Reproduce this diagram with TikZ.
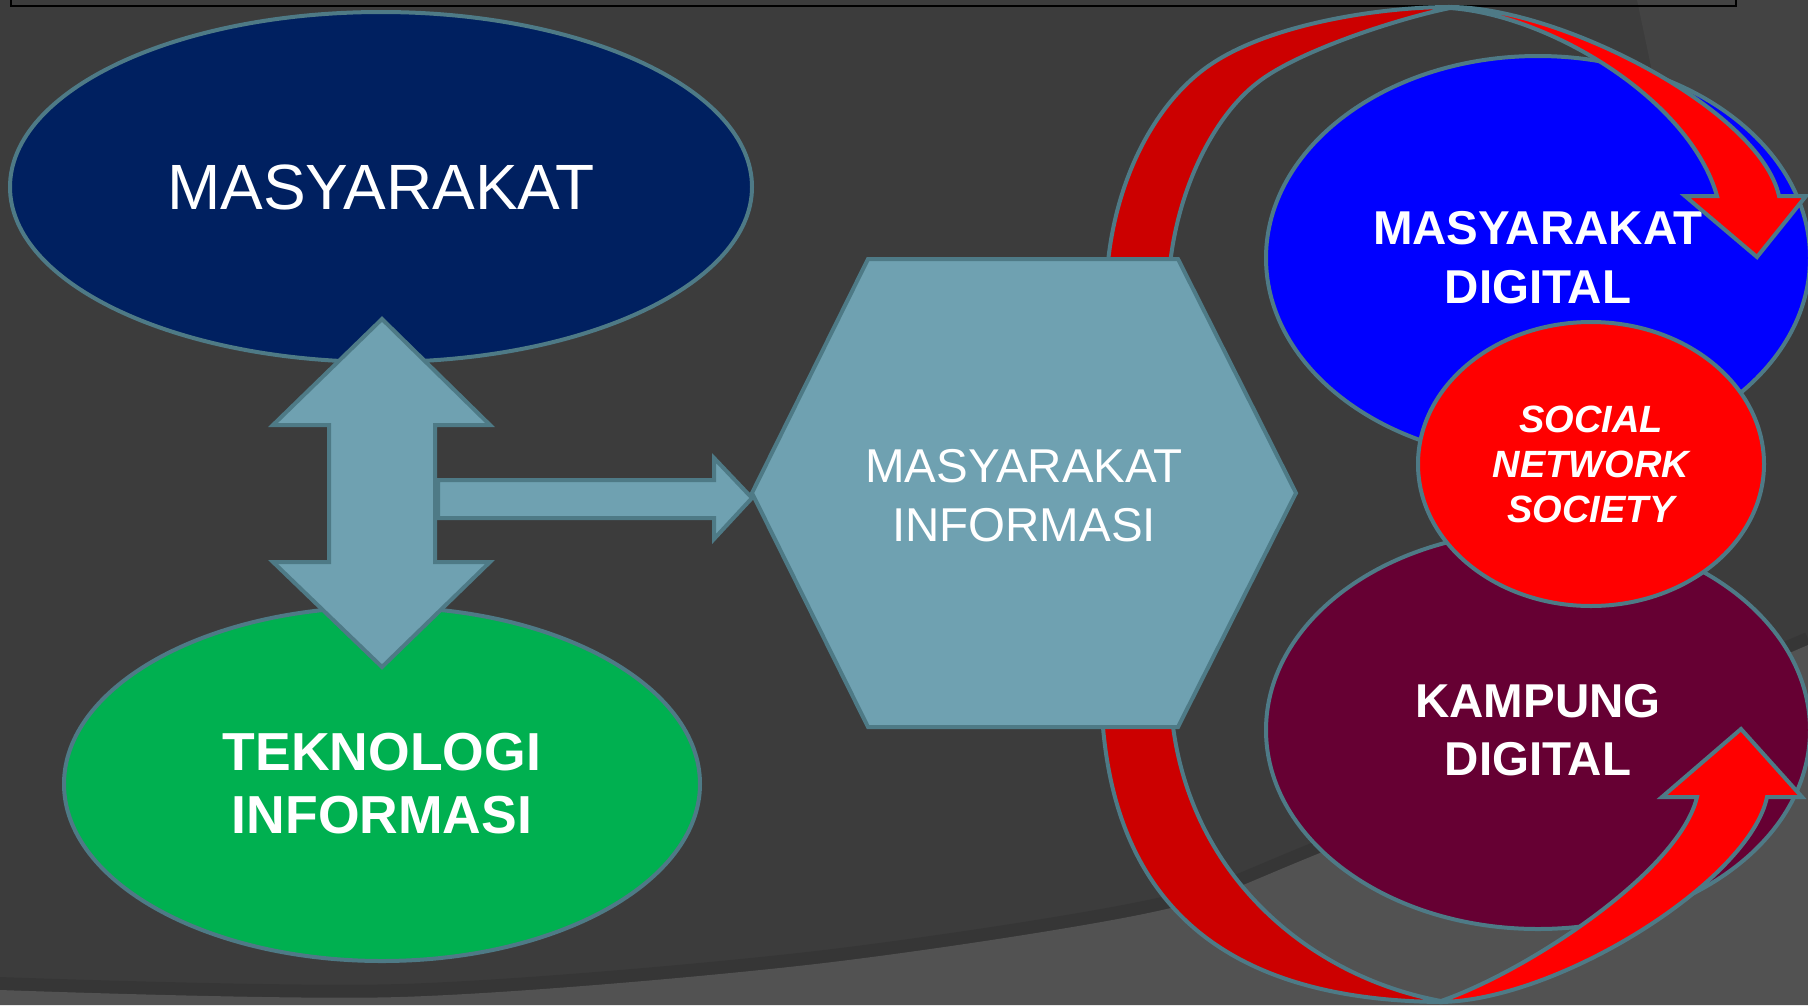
\documentclass[tikz,border=0pt]{standalone}
\usepackage{fontspec}
\setmainfont{Liberation Sans}
\usetikzlibrary{shapes.geometric}
\definecolor{bg}{HTML}{3C3C3C}
\definecolor{bglight}{HTML}{525252}
\definecolor{bgmid}{HTML}{434343}
\definecolor{bgshadow}{HTML}{333333}
\definecolor{edge}{HTML}{4E7A86}
\definecolor{hexfill}{HTML}{6FA1B1}
\definecolor{navy}{HTML}{002060}
\definecolor{tigreen}{HTML}{00B050}
\definecolor{mdblue}{HTML}{0000FF}
\definecolor{snred}{HTML}{FF0000}
\definecolor{kdmaroon}{HTML}{660033}
\definecolor{darkred}{HTML}{CC0000}
\begin{document}
\begin{tikzpicture}[x=1pt,y=-1pt,
  blk/.style={draw=edge, line width=4pt, line join=miter},
  oval/.style={blk, ellipse, inner sep=0pt, text=white, align=center},
  lbl/.style={text=white, align=center, inner sep=0pt}]
\useasboundingbox (0,0) rectangle (1808,1005);
\clip (0,0) rectangle (1808,1005);
% background
\fill[bg] (0,0) rectangle (1808,1005);
\fill[bgmid] (1637,0) -- (1700,300) -- (1808,300) -- (1808,0) -- cycle;
\draw[bgshadow, line width=14pt, opacity=0.6] plot[smooth] coordinates {(0,984) (400,991) (807,959) (1153,906) (1315,849) (1808,639)};
\fill[bglight] plot[smooth] coordinates {(0,990) (400,997) (807,965) (1153,912) (1315,855) (1808,645)} -- (1808,1005) -- (0,1005) -- cycle;
\draw[black, line width=2pt] (11,-20) rectangle (1736,6);
% right cluster
\node[oval, fill=mdblue, minimum width=544pt, minimum height=404pt,
  font=\fontsize{47.5}{59}\selectfont\bfseries] (md) at (1538,258) {MASYARAKAT\\DIGITAL};
\node[oval, fill=kdmaroon, minimum width=544pt, minimum height=398pt,
  font=\fontsize{47.5}{58}\selectfont\bfseries] (kd) at (1538,730) {KAMPUNG\\DIGITAL};
\node[oval, fill=snred, minimum width=346pt, minimum height=284pt,
  font=\fontsize{38}{45}\selectfont\bfseries\itshape] (sns) at (1591,464) {SOCIAL\\NETWORK\\SOCIETY};
% top curved arrow (back part)
\path[blk, fill=darkred] (1106,300) .. controls (1106,200) and (1147,110) .. (1207,67)
  .. controls (1267,24) and (1380,7) .. (1450,7) -- (1450,8)
  .. controls (1400,18) and (1297,51) .. (1257,83)
  .. controls (1207,122) and (1168,210) .. (1168,300) -- cycle;
% top curved arrow (front part)
\path[blk, fill=snred] (1450,7) .. controls (1560,7) and (1760,110) .. (1779,196)
  -- (1806,196) -- (1757,257) -- (1685,196) -- (1717,196)
  .. controls (1690,100) and (1550,15) .. (1450,8) -- cycle;
% bottom curved arrow (back part)
\path[blk, fill=darkred] (1101,680) .. controls (1101,900) and (1220,1000) .. (1441,1002)
  -- (1441,1001) .. controls (1300,975) and (1170,860) .. (1170,680) -- cycle;
% bottom curved arrow (front part)
\path[blk, fill=snred] (1441,1002) .. controls (1560,1000) and (1750,880) .. (1767,797)
  -- (1802,797) -- (1741,729) -- (1662,797) -- (1697,797)
  .. controls (1680,870) and (1530,970) .. (1441,1001) -- cycle;
% hexagon
\path[blk, fill=hexfill] (868,259) -- (1178,259) -- (1296,493) -- (1178,727) -- (868,727) -- (752,493) -- cycle;
\node[lbl, font=\fontsize{47.5}{59}\selectfont] (mi) at (1024,496) {MASYARAKAT\\INFORMASI};
% left ellipses
\node[oval, fill=navy, minimum width=742pt, minimum height=350pt,
  font=\fontsize{64}{64}\selectfont] (m) at (381,187) {MASYARAKAT};
\node[oval, fill=tigreen, minimum width=636pt, minimum height=354pt,
  font=\fontsize{53.5}{63}\selectfont\bfseries] (ti) at (382,784) {TEKNOLOGI\\INFORMASI};
% double arrow
\path[blk, fill=hexfill] (382,319) -- (490,425) -- (435,425) -- (435,562) -- (490,562) -- (382,667)
  -- (273,562) -- (329,562) -- (329,425) -- (273,425) -- cycle;
% horizontal arrow
\path[blk, fill=hexfill] (438,480) -- (714,480) -- (714,458) -- (752,498) -- (714,539) -- (714,518) -- (438,518) -- cycle;
\end{tikzpicture}
\end{document}
